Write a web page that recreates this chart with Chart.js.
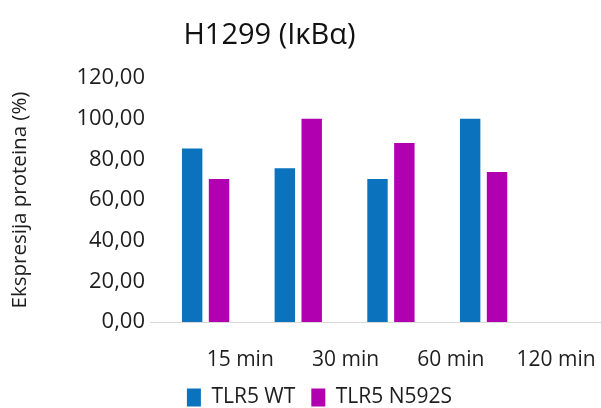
<!DOCTYPE html>
<html lang="hr">
<head>
  <meta charset="UTF-8" />
  <title>H1299 (IκBα)</title>
  <style>
    html, body { margin: 0; padding: 0; background: #fff; }
    #chart { display: block; }
  </style>
  <script src="https://cdn.jsdelivr.net/npm/chart.js"></script>
</head>
<body>
  <canvas id="chart" width="601" height="408"></canvas>

  <script>
    // podaci
    const timeLabels = ['15 min', '30 min', '60 min', '120 min'];
    const seriesNames = ['TLR5 WT', 'TLR5 N592S'];
    const wtValues = [85.3, 75.6, 70.3, 100.0];
    const mutValues = [70.3, 100.0, 88.0, 73.8];
    const yTicks = [0, 20, 40, 60, 80, 100, 120];

    const fontFamily = "'Open Sans', 'DejaVu Sans', sans-serif";
    const textColor = '#1e1e1e';

    const toPoints = vals => vals.map((v, i) => ({ x: i, y: v }));
    const categoryTicks = s => { s.ticks = timeLabels.map((_, i) => ({ value: i })); };

    // naslov i legenda u originalu nisu centrirani na platnu
    const shiftBoxes = {
      id: 'shiftBoxes',
      afterLayout(chart) {
        const move = (box, dx) => { if (box) { box.left += dx; box.right += dx; } };
        move(chart.titleBlock, -31);
        move(chart.legend, 19);
      }
    };

    const ctx = document.getElementById('chart').getContext('2d');

    new Chart(ctx, {
      type: 'bar',
      data: {
        datasets: [{
          label: seriesNames[0],
          data: toPoints(wtValues),
          backgroundColor: '#0B72BD',
          categoryPercentage: 0.58,
          barPercentage: 0.76
        }, {
          label: seriesNames[1],
          data: toPoints(mutValues),
          backgroundColor: '#B000B0',
          categoryPercentage: 0.58,
          barPercentage: 0.76
        }]
      },
      options: {
        responsive: false,
        animation: false,
        layout: { padding: { top: 0, left: 0, right: 0, bottom: -10 } },
        plugins: {
          title: {
            display: true,
            text: 'H1299 (IκBα)',
            color: '#111',
            font: { family: fontFamily, size: 29, weight: 'normal' },
            padding: { top: 18.6, bottom: 24.6 }
          },
          legend: {
            position: 'bottom',
            labels: {
              boxWidth: 14,
              boxHeight: 18,
              padding: 16,
              color: textColor,
              font: { family: fontFamily, size: 21 }
            }
          },
          tooltip: { enabled: false }
        },
        scales: {
          // os za stupce (bez oznaka)
          x: {
            type: 'linear',
            min: -0.6,
            max: 4.267,
            offset: false,
            grid: { display: false, drawTicks: false },
            border: { display: true, color: '#d9d9d9', width: 1 },
            ticks: { display: false },
            afterBuildTicks: categoryTicks,
            afterFit: s => { s.paddingLeft = 0; s.paddingRight = 0; s.height = 0; }
          },
          // os samo za oznake vremena
          xLabels: {
            type: 'linear',
            position: 'bottom',
            min: -0.857,
            max: 3.426,
            offset: false,
            grid: { display: false, drawTicks: false },
            border: { display: false },
            ticks: {
              padding: 25,
              maxRotation: 0,
              autoSkip: false,
              color: textColor,
              font: { family: fontFamily, size: 21 },
              callback: v => timeLabels[v] ?? ''
            },
            afterBuildTicks: categoryTicks,
            afterFit: s => { s.paddingLeft = 0; s.paddingRight = 0; s.height = 49; }
          },
          y: {
            min: yTicks[0],
            max: yTicks[yTicks.length - 1],
            grid: { display: false, drawTicks: false },
            border: { display: false },
            ticks: {
              padding: 5,
              color: textColor,
              font: { family: fontFamily, size: 22 },
              callback: v => v.toFixed(2).replace('.', ',')
            },
            afterBuildTicks: s => { s.ticks = yTicks.map(v => ({ value: v })); },
            title: {
              display: true,
              text: 'Ekspresija proteina (%)',
              color: textColor,
              font: { family: fontFamily, size: 20.5 },
              padding: { top: 8, bottom: 0 }
            },
            afterFit: s => { s.width = 150; }
          }
        }
      },
      plugins: [shiftBoxes]
    });
  </script>
</body>
</html>
